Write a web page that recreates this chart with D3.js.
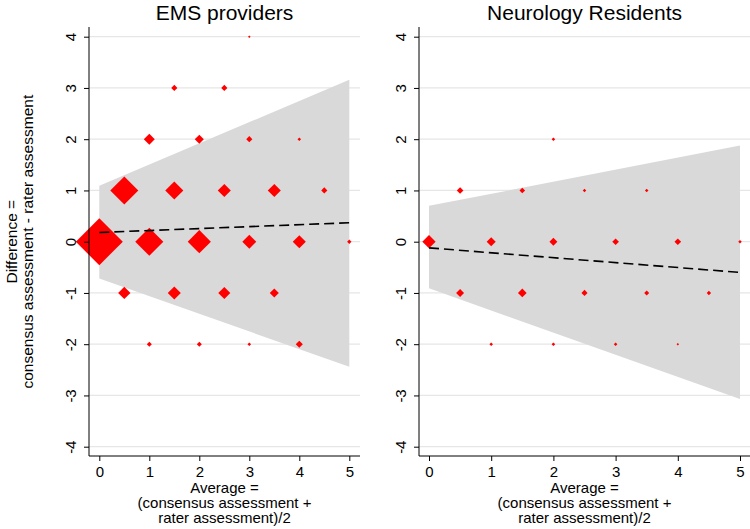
<!DOCTYPE html>
<html>
<head>
<meta charset="utf-8">
<script src="https://cdn.jsdelivr.net/npm/d3@7"></script>
<style>
  html, body { margin: 0; padding: 0; background: #fff; }
  svg { display: block; font-family: "Liberation Sans", Arial, Helvetica, sans-serif; }
</style>
</head>
<body>
<svg id="chart" width="750" height="529"></svg>
<script>
// ---------------- DATA ----------------
const panelTitles = ["EMS providers", "Neurology Residents"];
const xTicks = [0, 1, 2, 3, 4, 5];
const yTicks = [-4, -3, -2, -1, 0, 1, 2, 3, 4];
const yTitleLines = ["Difference =", "consensus assessment - rater assessment"];
const xTitleLines = ["Average =", "(consensus assessment +", "rater assessment)/2"];

// EMS providers: average, difference, count (marker weight)
const emsAvg  = [0, 0.5, 0.5, 1, 1, 1, 1.5, 1.5, 1.5, 2, 2, 2, 2.5, 2.5, 2.5, 3, 3, 3, 3, 3.5, 3.5, 4, 4, 4, 4.5, 5];
const emsDiff = [0, 1, -1, 2, 0, -2, 3, 1, -1, 2, 0, -2, 3, 1, -1, 4, 2, 0, -2, 1, -1, 2, 0, -2, 1, 0];
const emsN    = [350, 125, 24, 19, 125, 4, 6, 52, 27, 13, 85, 4, 6, 27, 23, 1, 6, 31, 2, 27, 13, 2, 27, 8, 6, 3];

// Neurology residents
const neuAvg  = [0, 0.5, 1, 1.5, 2, 2.5, 3, 3.5, 4, 5, 0.5, 1.5, 2.5, 3.5, 4.5, 1, 2, 3, 4, 2];
const neuDiff = [0, 1, 0, 1, 0, 1, 0, 1, 0, 0, -1, -1, -1, -1, -1, -2, -2, -2, -2, 2];
const neuN    = [28, 7, 13, 5, 10, 2, 7, 2, 7, 2, 10, 12, 6, 4, 3, 2, 2, 2, 1, 2];

// Limits-of-agreement bands and fitted (dashed) line, at average = 0 and 5
const bandX    = [0, 5];
const emsUpper = [1.09, 3.16];
const emsLower = [-0.72, -2.44];
const emsFit   = [0.18, 0.37];
const neuUpper = [0.70, 1.875];
const neuLower = [-0.91, -3.07];
const neuFit   = [-0.12, -0.60];

// ---------------- DRAW ----------------
const svg = d3.select("#chart");
const red = "#ff0000";
const FONT = "'Liberation Sans', Arial, Helvetica, sans-serif";

const yScale = d3.scaleLinear().domain([-4, 4]).range([446.7, 36.7]);
const sizeScale = d3.scaleSqrt().domain([0, 350]).range([0, 23.5]);

const panels = [
  { title: panelTitles[0], axisX: 89, right: 360, x0: 99.3, x1: 349.3,
    avg: emsAvg, diff: emsDiff, n: emsN, upper: emsUpper, lower: emsLower, fit: emsFit },
  { title: panelTitles[1], axisX: 419, right: 750, x0: 429, x1: 740,
    avg: neuAvg, diff: neuDiff, n: neuN, upper: neuUpper, lower: neuLower, fit: neuFit }
];

const axisTop = 27, axisBottom = 456;

panels.forEach(p => {
  const x = d3.scaleLinear().domain([0, 5]).range([p.x0, p.x1]);
  const g = svg.append("g");

  // gridlines
  g.append("g").selectAll("line").data(yTicks).join("line")
    .attr("x1", p.axisX).attr("x2", p.right)
    .attr("y1", d => yScale(d)).attr("y2", d => yScale(d))
    .attr("stroke", "#e6e6e6").attr("stroke-width", 1.2);

  // band
  const bandData = bandX.map((bx, i) => ({ x: bx, lo: p.lower[i], hi: p.upper[i] }));
  g.append("path").datum(bandData)
    .attr("d", d3.area().x(d => x(d.x)).y0(d => yScale(d.lo)).y1(d => yScale(d.hi)))
    .attr("fill", "#d9d9d9");

  // markers
  const pts = p.avg.map((a, i) => ({ a, d: p.diff[i], n: p.n[i] }));
  g.append("g").selectAll("path").data(pts).join("path")
    .attr("d", d => {
      const cx = x(d.a), cy = yScale(d.d), h = Math.max(1.2, sizeScale(d.n));
      return `M${cx},${cy - h}L${cx + h},${cy}L${cx},${cy + h}L${cx - h},${cy}Z`;
    })
    .attr("fill", red);

  // fitted dashed line
  const fitData = bandX.map((bx, i) => ({ x: bx, y: p.fit[i] }));
  g.append("path").datum(fitData)
    .attr("d", d3.line().x(d => x(d.x)).y(d => yScale(d.y)))
    .attr("fill", "none").attr("stroke", "#000").attr("stroke-width", 1.6)
    .attr("stroke-dasharray", "10,5");

  // axis lines
  g.append("line").attr("x1", p.axisX).attr("x2", p.axisX)
    .attr("y1", axisTop).attr("y2", axisBottom).attr("stroke", "#000").attr("stroke-width", 1);
  g.append("line").attr("x1", p.axisX).attr("x2", p.right)
    .attr("y1", axisBottom).attr("y2", axisBottom).attr("stroke", "#000").attr("stroke-width", 1);

  // y axis ticks + labels
  const yAxis = g.append("g").attr("transform", `translate(${p.axisX},0)`)
    .call(d3.axisLeft(yScale).tickValues(yTicks).tickSize(5).tickFormat(d => String(d)));
  yAxis.select(".domain").remove();
  yAxis.selectAll(".tick line").attr("stroke", "#000");
  yAxis.selectAll(".tick text")
    .attr("x", null).attr("dy", null)
    .attr("transform", "translate(-13,0) rotate(-90)")
    .attr("text-anchor", "middle")
    .attr("font-size", 15).attr("fill", "#000")
    .attr("font-family", FONT);

  // x axis ticks + labels
  const xAxis = g.append("g").attr("transform", `translate(0,${axisBottom})`)
    .call(d3.axisBottom(x).tickValues(xTicks).tickSize(5).tickFormat(d => String(d)));
  xAxis.select(".domain").remove();
  xAxis.selectAll(".tick line").attr("stroke", "#000");
  xAxis.selectAll(".tick text")
    .attr("y", 21).attr("dy", null)
    .attr("font-size", 15).attr("fill", "#000")
    .attr("font-family", FONT);

  const cx = (p.axisX + p.right) / 2;
  // title
  g.append("text").attr("x", cx).attr("y", 20).attr("text-anchor", "middle")
    .attr("font-family", FONT)
    .attr("font-size", 21).attr("fill", "#000").text(p.title);

  // x title
  g.append("g").selectAll("text").data(xTitleLines).join("text")
    .attr("x", cx).attr("y", (d, i) => 493 + i * 15)
    .attr("text-anchor", "middle").attr("font-size", 15).attr("fill", "#000")
    .attr("font-family", FONT)
    .text(d => d);
});

// y title (left only)
svg.append("g").selectAll("text").data(yTitleLines).join("text")
  .attr("transform", (d, i) => `translate(${17 + i * 15.5},241.7) rotate(-90)`)
  .attr("text-anchor", "middle").attr("font-size", 15.5).attr("fill", "#000")
  .attr("font-family", FONT)
  .text(d => d);
</script>
</body>
</html>
